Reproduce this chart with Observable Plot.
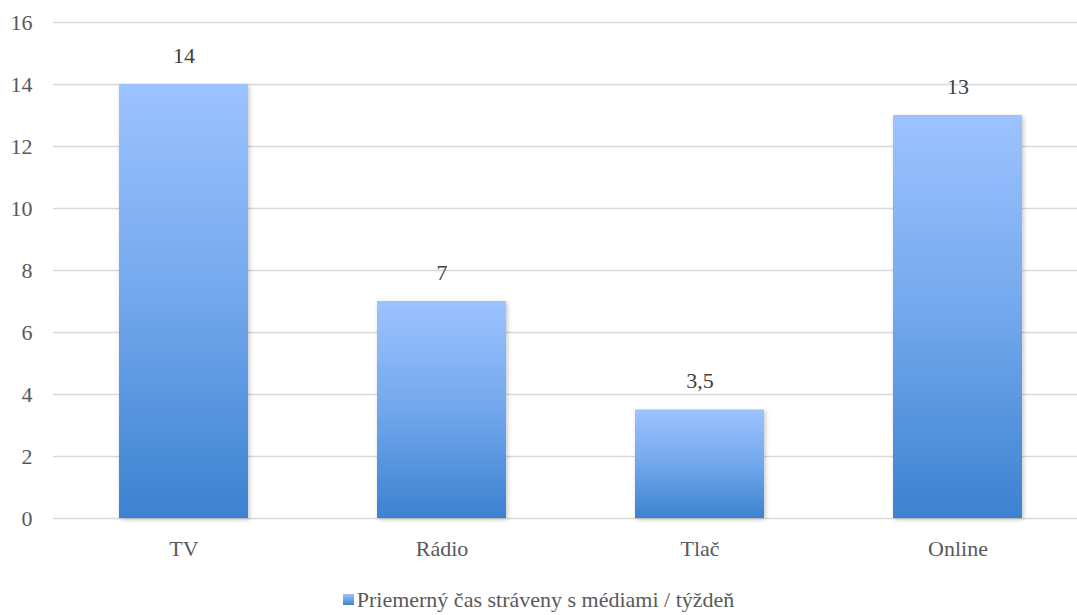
<!DOCTYPE html>
<html>
<head>
<meta charset="utf-8">
<script src="https://cdn.jsdelivr.net/npm/d3@7"></script>
<script src="https://cdn.jsdelivr.net/npm/@observablehq/plot@0.6"></script>
<style>
  html, body { margin: 0; padding: 0; background: #fff; }
  #chart { width: 1077px; }
  #chart svg, #chart svg text { font-family: "Liberation Serif", "Times New Roman", Times, "DejaVu Serif", serif !important; }
  .legend { font-family: "Liberation Serif", "Times New Roman", Times, "DejaVu Serif", serif; font-size: 22px; color: #595959;
            display: flex; justify-content: center; align-items: center; height: 55px; padding-top: 24px; box-sizing: border-box; }
  .legend .sw { width: 11px; height: 11px; margin-right: 3px; background: linear-gradient(#9dc3ff, #3c82d0); }
</style>
</head>
<body>
<div id="chart"></div>
<script>
const categories = ["TV", "Rádio", "Tlač", "Online"];
const values = [14, 7, 3.5, 13];
const yTicks = [0, 2, 4, 6, 8, 10, 12, 14, 16];
const seriesName = "Priemerný čas stráveny s médiami / týždeň";

const data = categories.map((c, i) => ({category: c, value: values[i]}));
const fmt = v => String(v).replace(".", ",");
const font = "'Liberation Serif', 'Times New Roman', Times, 'DejaVu Serif', serif";

const plot = Plot.plot({
  width: 1077,
  height: 560,
  marginLeft: 53,
  marginRight: -11,
  marginTop: 22,
  marginBottom: 42,
  style: {fontFamily: font, background: "#fff"},
  x: {domain: categories, paddingInner: 0.5, paddingOuter: 0.25, label: null},
  y: {domain: [0, 16], ticks: yTicks, label: null},
  marks: [
    Plot.gridY(yTicks, {stroke: "#d9d9d9", strokeOpacity: 1, strokeWidth: 1.5}),
    Plot.axisY(yTicks, {tickSize: 0, tickPadding: 21, fontSize: 22, fill: "#595959", label: null, tickFormat: d => d}),
    Plot.axisX({tickSize: 0, tickPadding: 22, fontSize: 22, fill: "#595959", label: null}),
    Plot.barY(data, {x: "category", y: "value", fill: "url(#barGrad)"}),
    Plot.text(data, {x: "category", y: "value", text: d => fmt(d.value), dy: -29, fontSize: 22, fill: "#404040"})
  ]
});

const ns = "http://www.w3.org/2000/svg";
const defs = document.createElementNS(ns, "defs");
defs.innerHTML = `
  <linearGradient id="barGrad" x1="0" y1="0" x2="0" y2="1">
    <stop offset="0" stop-color="#9dc3ff"/>
    <stop offset="0.5" stop-color="#72a7ec"/>
    <stop offset="1" stop-color="#3c82d0"/>
  </linearGradient>
  <filter id="shadow" x="-10%" y="-10%" width="120%" height="120%">
    <feDropShadow dx="1.5" dy="1.5" stdDeviation="2" flood-color="#000" flood-opacity="0.22"/>
  </filter>`;
plot.insertBefore(defs, plot.firstChild);
plot.querySelectorAll('g[aria-label="bar"] rect').forEach(r => r.setAttribute("filter", "url(#shadow)"));

document.getElementById("chart").appendChild(plot);
const legend = document.createElement("div");
legend.className = "legend";
legend.innerHTML = `<span class="sw"></span><span>${seriesName}</span>`;
document.getElementById("chart").appendChild(legend);
</script>
</body>
</html>
